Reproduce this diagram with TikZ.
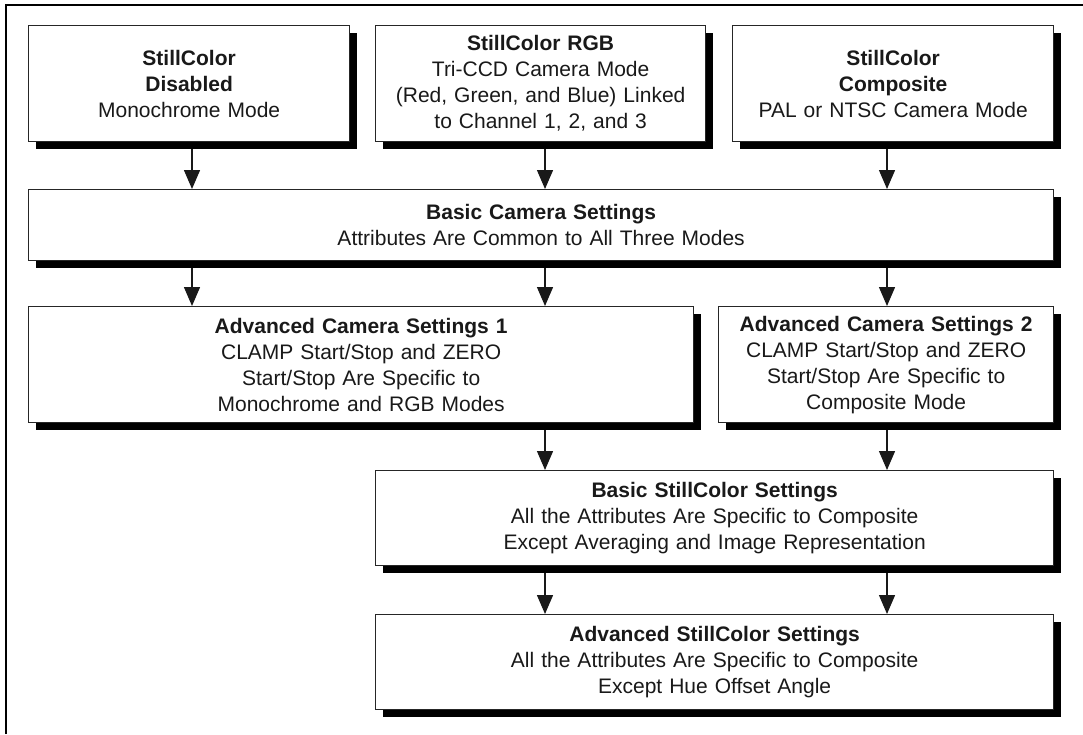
\documentclass[tikz,border=0pt]{standalone}
\usepackage{fontspec}
\setmainfont{Liberation Sans}
\usetikzlibrary{arrows.meta,shadows}
\begin{document}
\begin{tikzpicture}[x=1pt,y=-1pt,
  box/.style={draw=black!85, line width=1.3pt, fill=white, anchor=north west,
    align=center, inner sep=0pt, font=\fontsize{21}{26}\selectfont, text=black!90,
    drop shadow={shadow xshift=7pt, shadow yshift=-7pt, fill=black, opacity=1}},
  arr/.style={line width=1.4pt, draw=black!90, -{Triangle[length=19pt,width=16pt]}}]
\useasboundingbox (0,0) rectangle (1083,734);
\fill[white] (0,0) rectangle (1083,734);
\draw[line width=2.6pt] (6,734) -- (6,5) -- (1083,5);

\node[box, minimum width=321pt, minimum height=116pt, text width=310pt] (A) at (28,25)
  {\textbf{StillColor}\\\textbf{Disabled}\\Monochrome Mode};
\node[box, minimum width=330pt, minimum height=116pt, text width=320pt] (B) at (375,25)
  {\textbf{StillColor RGB}\\Tri-CCD Camera Mode\\(Red, Green, and Blue) Linked\\to Channel 1, 2, and 3};
\node[box, minimum width=321pt, minimum height=116pt, text width=310pt] (C) at (732,25)
  {\textbf{StillColor}\\\textbf{Composite}\\PAL or NTSC Camera Mode};

\node[box, minimum width=1025pt, minimum height=71pt, text width=1000pt] (BC) at (28,189)
  {\textbf{Basic Camera Settings}\\Attributes Are Common to All Three Modes};

\node[box, minimum width=665pt, minimum height=116pt, text width=640pt] (AC1) at (28,306)
  {\textbf{Advanced Camera Settings 1}\\CLAMP Start/Stop and ZERO\\Start/Stop Are Specific to\\Monochrome and RGB Modes};
\node[box, minimum width=335pt, minimum height=116pt, text width=330pt] (AC2) at (718,306)
  {\textbf{Advanced Camera Settings 2}\\CLAMP Start/Stop and ZERO\\Start/Stop Are Specific to\\Composite Mode};

\node[box, minimum width=678pt, minimum height=95pt, text width=660pt] (BSC) at (375,470)
  {\textbf{Basic StillColor Settings}\\All the Attributes Are Specific to Composite\\Except Averaging and Image Representation};
\node[box, minimum width=678pt, minimum height=95pt, text width=660pt] (ASC) at (375,614)
  {\textbf{Advanced StillColor Settings}\\All the Attributes Are Specific to Composite\\Except Hue Offset Angle};

\draw[arr] (192,0 |- A.south) ++(0,7) -- (192,0 |- BC.north);
\draw[arr] (545,0 |- B.south) ++(0,7) -- (545,0 |- BC.north);
\draw[arr] (887,0 |- C.south) ++(0,7) -- (887,0 |- BC.north);

\draw[arr] (192,0 |- BC.south) ++(0,7) -- (192,0 |- AC1.north);
\draw[arr] (545,0 |- BC.south) ++(0,7) -- (545,0 |- AC1.north);
\draw[arr] (887,0 |- BC.south) ++(0,7) -- (887,0 |- AC2.north);

\draw[arr] (545,0 |- AC1.south) ++(0,7) -- (545,0 |- BSC.north);
\draw[arr] (887,0 |- AC2.south) ++(0,7) -- (887,0 |- BSC.north);

\draw[arr] (545,0 |- BSC.south) ++(0,7) -- (545,0 |- ASC.north);
\draw[arr] (887,0 |- BSC.south) ++(0,7) -- (887,0 |- ASC.north);
\end{tikzpicture}
\end{document}
